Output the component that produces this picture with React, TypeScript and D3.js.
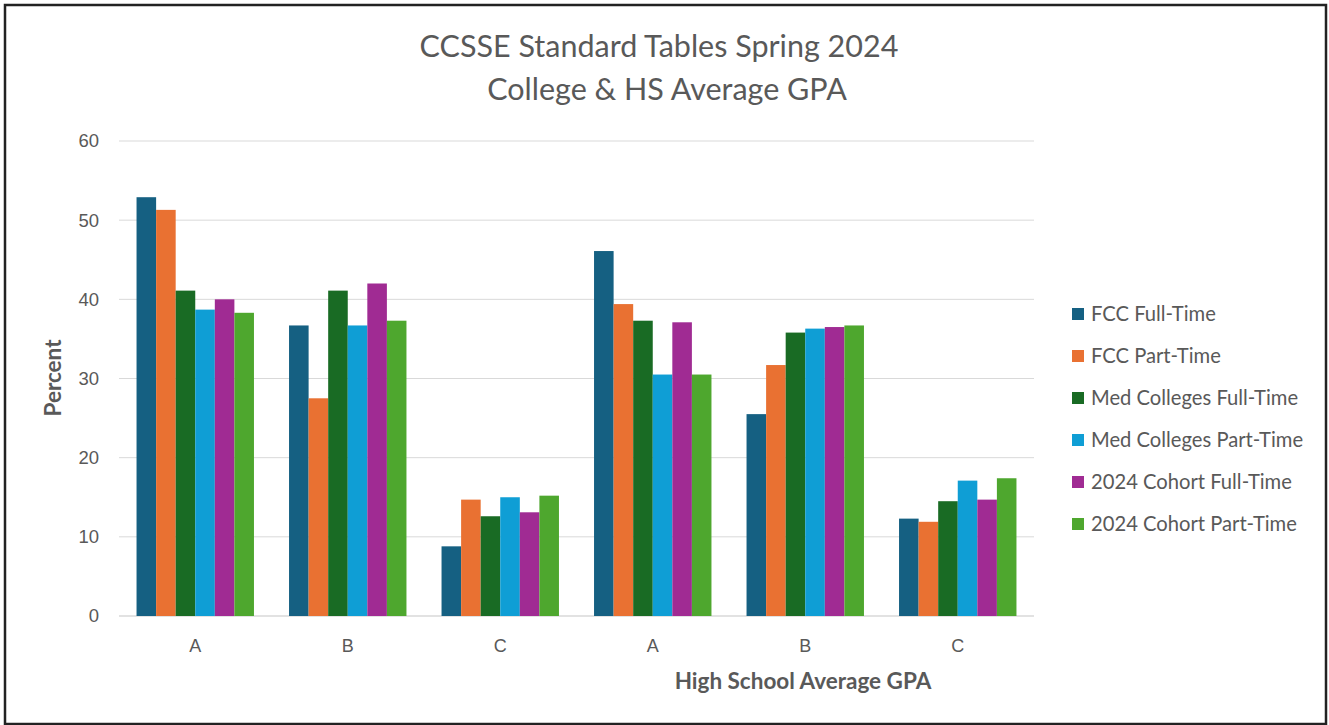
import React from "react";
import * as d3 from "d3";

const categories = ["A", "B", "C", "A", "B", "C"];
const seriesNames = [
  "FCC Full-Time",
  "FCC Part-Time",
  "Med Colleges Full-Time",
  "Med Colleges Part-Time",
  "2024 Cohort Full-Time",
  "2024 Cohort Part-Time",
];
const fccFullTime = [52.9, 36.7, 8.8, 46.1, 25.5, 12.3];
const fccPartTime = [51.3, 27.5, 14.7, 39.4, 31.7, 11.9];
const medFullTime = [41.1, 41.1, 12.6, 37.3, 35.8, 14.5];
const medPartTime = [38.7, 36.7, 15.0, 30.5, 36.3, 17.1];
const cohortFullTime = [40.0, 42.0, 13.1, 37.1, 36.5, 14.7];
const cohortPartTime = [38.3, 37.3, 15.2, 30.5, 36.7, 17.4];
const yTicks = [0, 10, 20, 30, 40, 50, 60];
const colors = ["#156082", "#E97132", "#196B24", "#0F9ED5", "#A02B93", "#4EA72E"];

const seriesValues = [fccFullTime, fccPartTime, medFullTime, medPartTime, cohortFullTime, cohortPartTime];

const W = 1329;
const H = 725;
const left = 119;
const right = 1034;
const top = 141;
const bottom = 616;
const textColor = "#595959";
const uiFont = "Lato, 'Open Sans', sans-serif";
const numFont = "'Liberation Sans', Arial, sans-serif";

export default function App() {
  const idx = categories.map((_, i) => i);
  const x0 = d3.scaleBand<number>().domain(idx).range([left, right]).paddingInner(0.23).paddingOuter(0.115);
  const x1 = d3.scaleBand<number>().domain(seriesNames.map((_, i) => i)).range([0, x0.bandwidth()]);
  const y = d3.scaleLinear().domain([0, 60]).range([bottom, top]);

  return (
    <svg width={W} height={H} style={{ position: "absolute", left: 0, top: 0, background: "#fff" }}>
      <rect x={5} y={5} width={1321} height={719} fill="#fff" stroke="#222" strokeWidth={2.5} />

      <text x={659} y={57} textAnchor="middle" fontFamily={uiFont} fontSize={30.5} fill={textColor}>
        CCSSE Standard Tables Spring 2024
      </text>
      <text x={667} y={100} textAnchor="middle" fontFamily={uiFont} fontSize={30.5} fill={textColor}>
        College &amp; HS Average GPA
      </text>

      {yTicks.map((t) => (
        <g key={t}>
          <line x1={left} x2={right} y1={y(t)} y2={y(t)} stroke="#d9d9d9" strokeWidth={t === 0 ? 1.5 : 1} />
          <text x={99} y={y(t)} dy="0.35em" textAnchor="end" fontFamily={numFont} fontSize={18.5} fill={textColor}>
            {t}
          </text>
        </g>
      ))}

      {seriesValues.map((vals, s) => (
        <g key={s} fill={colors[s]}>
          {vals.map((v, i) => (
            <rect
              key={i}
              x={(x0(i) as number) + (x1(s) as number)}
              y={y(v)}
              width={x1.bandwidth()}
              height={y(0) - y(v)}
            />
          ))}
        </g>
      ))}

      {categories.map((c, i) => (
        <text
          key={i}
          x={(x0(i) as number) + x0.bandwidth() / 2}
          y={652}
          textAnchor="middle"
          fontFamily={numFont}
          fontSize={18}
          fill={textColor}
        >
          {c}
        </text>
      ))}

      <text x={803} y={689} textAnchor="middle" fontFamily={uiFont} fontWeight="bold" fontSize={22.5} fill={textColor}>
        High School Average GPA
      </text>
      <text
        transform="translate(61,378) rotate(-90)"
        textAnchor="middle"
        fontFamily={uiFont}
        fontWeight="bold"
        fontSize={22.5}
        fill={textColor}
      >
        Percent
      </text>

      {seriesNames.map((n, i) => {
        const cy = 314 + i * 42;
        return (
          <g key={n}>
            <rect x={1072} y={cy - 6} width={12} height={12} fill={colors[i]} />
            <text x={1091} y={cy} dy="0.35em" fontFamily={uiFont} fontSize={20.2} fill={textColor}>
              {n}
            </text>
          </g>
        );
      })}
    </svg>
  );
}
